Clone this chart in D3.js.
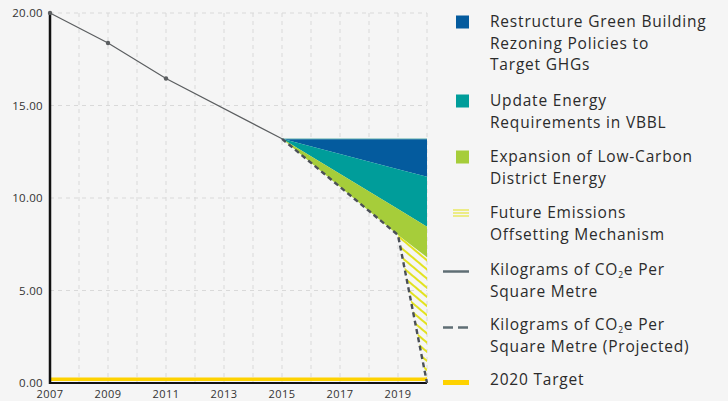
<!DOCTYPE html>
<html>
<head>
<meta charset="utf-8">
<script src="https://cdn.jsdelivr.net/npm/d3@7"></script>
<style>
  html, body { margin: 0; padding: 0; background: #f5f5f5; }
  svg { display: block; font-family: "Open Sans", "Noto Sans", sans-serif; }
</style>
</head>
<body>
<svg id="chart" width="728" height="401"></svg>
<script>
// Recorded intensity (kg CO2e per square metre)
const actualYears = [2007, 2009, 2011, 2015];
const actualValues = [20.0, 18.38, 16.46, 13.2];

// Projected intensity path
const projectedYears = [2015, 2019, 2020];
const projectedValues = [13.2, 8.0, 0.0];

// Reductions from the 2015 level, by measure, at the projection years
const wedgeYears = [2015, 2019, 2020];
const wedgeCeiling = 13.2;
const rezoningCut = [0, 1.64, 2.05];
const vbblCut = [0, 2.16, 2.7];
const districtCut = [0, 1.4, 1.65];
const offsetCut = [0, 0, 6.8];

const targetValue = 0.2;

const yTicks = [0, 5, 10, 15, 20];
const xTickLabels = [2007, 2009, 2011, 2013, 2015, 2017, 2019];
const gridYears = [2008, 2009, 2010, 2011, 2012, 2013, 2014, 2015, 2016, 2017, 2018, 2019, 2020];

const colors = {
  rezoning: "#045b9e",
  vbbl: "#009d9a",
  district: "#a6cd3a",
  offset: "#e2e220",
  line: "#5b5e60",
  dash: "#4b5057",
  target: "#fed200",
  legendLine: "#5f6e74"
};

const svg = d3.select("#chart");
const x = d3.scaleLinear().domain([2007, 2020]).range([50, 427]);
const y = d3.scaleLinear().domain([0, 20]).range([383, 13]);

// Hatch for the offsetting mechanism
const defs = svg.append("defs");
const pat = defs.append("pattern")
  .attr("id", "hatch")
  .attr("patternUnits", "userSpaceOnUse")
  .attr("width", 7).attr("height", 7)
  .attr("patternTransform", "rotate(40)");
pat.append("line")
  .attr("x1", 0).attr("y1", 2).attr("x2", 7).attr("y2", 2)
  .attr("stroke", colors.offset).attr("stroke-width", 2);

// Gridlines
const grid = svg.append("g");
grid.selectAll("line.v").data(gridYears).join("line")
  .attr("x1", d => x(d)).attr("x2", d => x(d))
  .attr("y1", y(20)).attr("y2", y(0))
  .attr("stroke", "#d9d9d9").attr("stroke-width", 1).attr("stroke-dasharray", "4,4");
grid.selectAll("line.h").data(yTicks.filter(d => d > 0)).join("line")
  .attr("x1", x(2007)).attr("x2", x(2020))
  .attr("y1", d => y(d)).attr("y2", d => y(d))
  .attr("stroke", "#d9d9d9").attr("stroke-width", 1).attr("stroke-dasharray", "4,4");

// Stacked reduction wedges, hanging down from the 2015 level
const rows = wedgeYears.map((yr, i) => ({
  year: yr, rezoning: rezoningCut[i], vbbl: vbblCut[i], district: districtCut[i], offset: offsetCut[i]
}));
const stack = d3.stack().keys(["rezoning", "vbbl", "district", "offset"]);
const layers = stack(rows);
const area = d3.area()
  .x(d => x(d.data.year))
  .y0(d => y(wedgeCeiling - d[0]))
  .y1(d => y(wedgeCeiling - d[1]));
svg.append("g").selectAll("path").data(layers).join("path")
  .attr("d", area)
  .attr("fill", d => d.key === "offset" ? "url(#hatch)" : colors[d.key]);

// Thin highlight along the top of the wedges
svg.append("line")
  .attr("x1", x(2015)).attr("x2", x(2020))
  .attr("y1", y(wedgeCeiling)).attr("y2", y(wedgeCeiling))
  .attr("stroke", "#9fd3c6").attr("stroke-width", 1);

// Target line
svg.append("line")
  .attr("x1", x(2007)).attr("x2", x(2020))
  .attr("y1", y(targetValue)).attr("y2", y(targetValue))
  .attr("stroke", colors.target).attr("stroke-width", 3.5);

// Axes
svg.append("line")
  .attr("x1", x(2007)).attr("x2", x(2007))
  .attr("y1", y(20)).attr("y2", y(0) + 1)
  .attr("stroke", "#111").attr("stroke-width", 2.5);
svg.append("line")
  .attr("x1", x(2007) - 1).attr("x2", x(2020))
  .attr("y1", y(0)).attr("y2", y(0))
  .attr("stroke", "#111").attr("stroke-width", 2);

// Recorded line and points
const line = d3.line().x(d => x(d[0])).y(d => y(d[1]));
const actual = actualYears.map((yr, i) => [yr, actualValues[i]]);
svg.append("path").attr("d", line(actual))
  .attr("fill", "none").attr("stroke", colors.line).attr("stroke-width", 1.2);
svg.selectAll("circle.pt").data(actual.slice(0, 3)).join("circle")
  .attr("cx", d => x(d[0])).attr("cy", d => y(d[1])).attr("r", 2.2)
  .attr("fill", colors.line);

// Projected line
const projected = projectedYears.map((yr, i) => [yr, projectedValues[i]]);
svg.append("path").attr("d", line(projected))
  .attr("fill", "none").attr("stroke", colors.dash)
  .attr("stroke-width", 2.4).attr("stroke-dasharray", "5,3.5");

// Tick labels
svg.append("g").selectAll("text").data(yTicks).join("text")
  .attr("x", 43).attr("y", d => y(d)).attr("dy", "0.35em")
  .attr("text-anchor", "end").attr("font-size", 11.5).attr("letter-spacing", 0.3).attr("fill", "#333")
  .text(d3.format(".2f"));
svg.append("g").selectAll("text").data(xTickLabels).join("text")
  .attr("x", d => x(d)).attr("y", 397.5)
  .attr("text-anchor", "middle").attr("font-size", 11).attr("letter-spacing", 0.4).attr("fill", "#333")
  .text(d => d);

// Legend
const legendItems = [
  { kind: "square", color: colors.rezoning, y: 22, lines: ["Restructure Green Building", "Rezoning Policies to", "Target GHGs"] },
  { kind: "square", color: colors.vbbl, y: 101, lines: ["Update Energy", "Requirements in VBBL"] },
  { kind: "square", color: colors.district, y: 157, lines: ["Expansion of Low-Carbon", "District Energy"] },
  { kind: "hatch", color: "#e6e64a", y: 213, lines: ["Future Emissions", "Offsetting Mechanism"] },
  { kind: "line", color: colors.legendLine, y: 270, lines: ["Kilograms of CO|2|e Per", "Square Metre"] },
  { kind: "dash", color: colors.legendLine, y: 325, lines: ["Kilograms of CO|2|e Per", "Square Metre (Projected)"] },
  { kind: "target", color: colors.target, y: 380, lines: ["2020 Target"] }
];
const lg = svg.append("g");
legendItems.forEach(item => {
  const g = lg.append("g");
  if (item.kind === "square") {
    g.append("rect").attr("x", 456).attr("y", item.y - 6.5).attr("width", 13).attr("height", 13).attr("fill", item.color);
  } else if (item.kind === "hatch") {
    [-3, 0, 3].forEach(o => g.append("line").attr("x1", 453).attr("x2", 469)
      .attr("y1", item.y + o).attr("y2", item.y + o).attr("stroke", item.color).attr("stroke-width", 1.3));
  } else if (item.kind === "line") {
    g.append("line").attr("x1", 443).attr("x2", 469).attr("y1", item.y + 1.5).attr("y2", item.y + 1.5)
      .attr("stroke", item.color).attr("stroke-width", 2.5);
  } else if (item.kind === "dash") {
    g.append("line").attr("x1", 443).attr("x2", 469).attr("y1", item.y + 2.5).attr("y2", item.y + 2.5)
      .attr("stroke", item.color).attr("stroke-width", 2.5).attr("stroke-dasharray", "10,5");
  } else {
    g.append("line").attr("x1", 443).attr("x2", 469).attr("y1", item.y + 2.5).attr("y2", item.y + 2.5)
      .attr("stroke", item.color).attr("stroke-width", 5);
  }
  item.lines.forEach((ln, i) => {
    const t = g.append("text").attr("x", 490).attr("y", item.y + i * 21.5).attr("dy", "0.35em")
      .attr("font-size", 15.5).attr("letter-spacing", 0.8).attr("fill", "#2b2b2b");
    const parts = ln.split("|");
    if (parts.length === 3) {
      t.append("tspan").text(parts[0]);
      t.append("tspan").attr("font-size", 8.5).attr("dy", 3).text(parts[1]);
      t.append("tspan").attr("dy", -3).text(parts[2]);
    } else {
      t.text(ln);
    }
  });
});
</script>
</body>
</html>
